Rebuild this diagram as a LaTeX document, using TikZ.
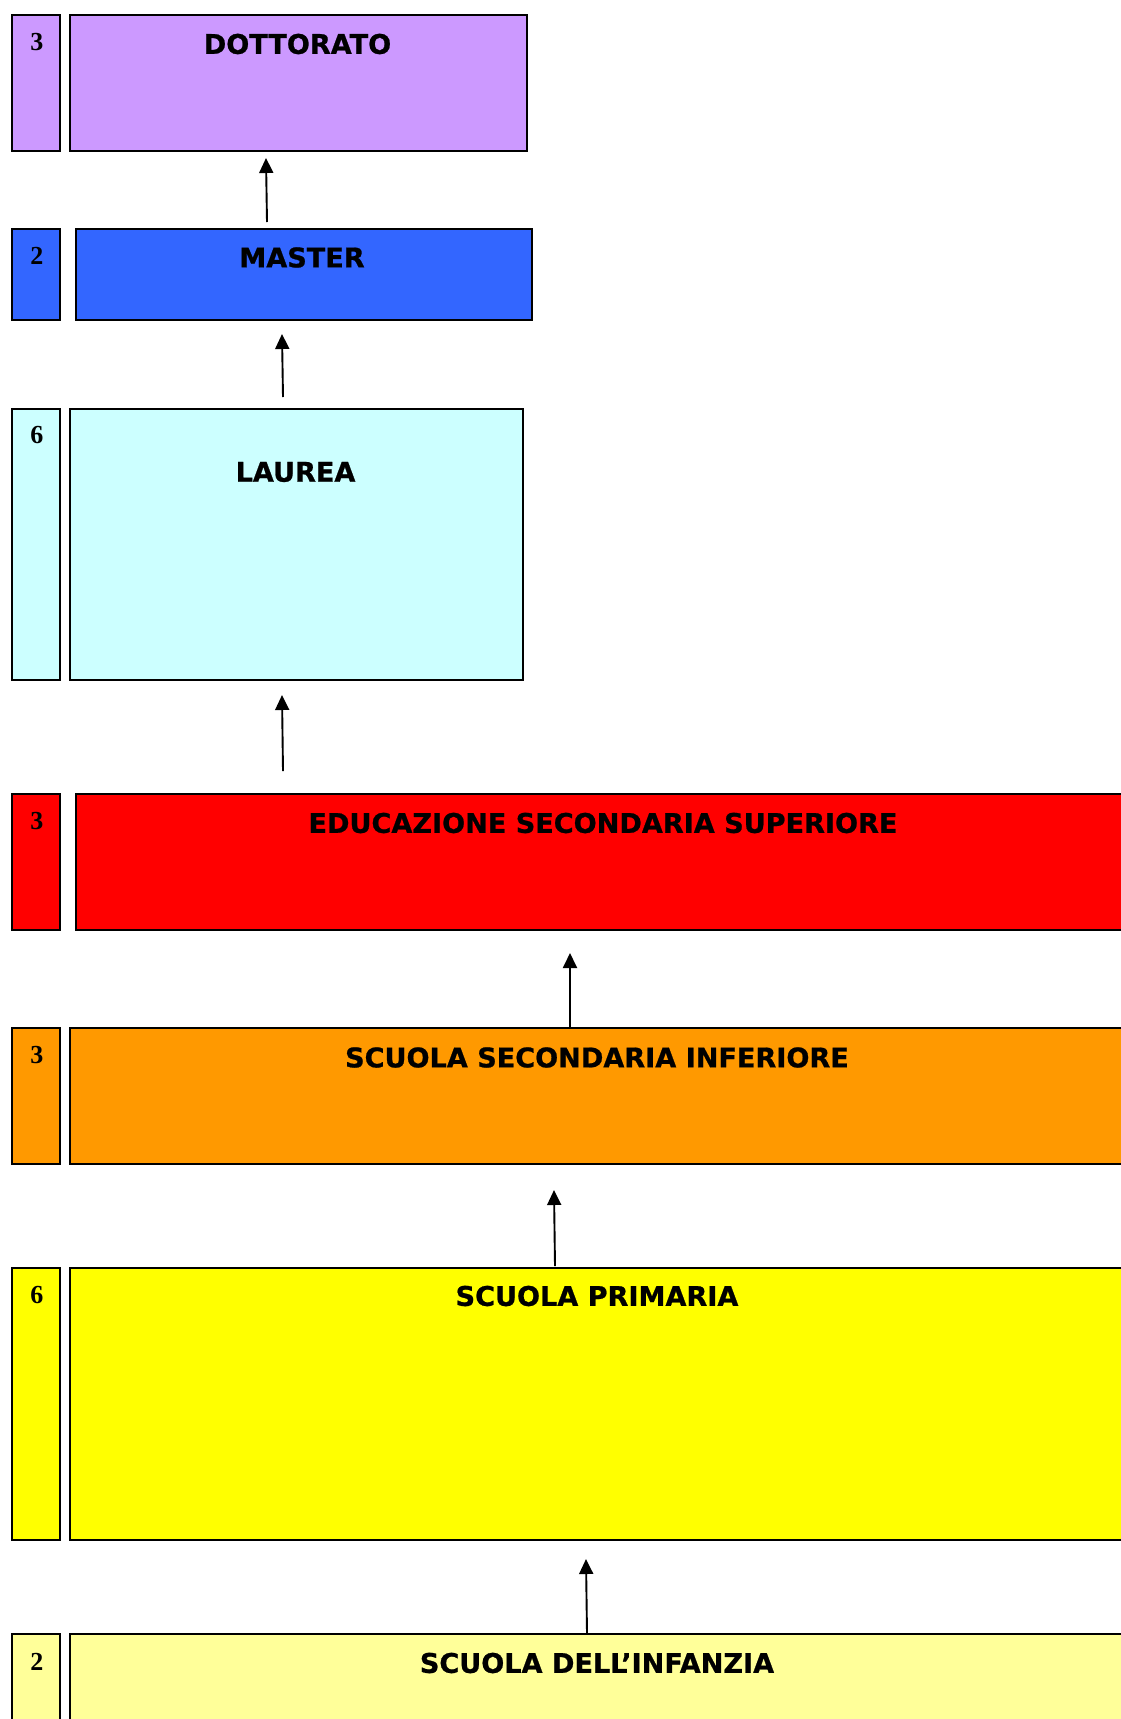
\documentclass[tikz,border=0pt]{standalone}
\usepackage{fontspec}
\setmainfont{Liberation Serif}
\newfontfamily\titlefont[BoldFeatures={FakeBold=0.8}]{DejaVu Sans}
\usetikzlibrary{arrows.meta}
\definecolor{cdott}{HTML}{CC99FF}
\definecolor{cmast}{HTML}{3366FF}
\definecolor{claur}{HTML}{CCFFFF}
\definecolor{cess}{HTML}{FF0000}
\definecolor{cssi}{HTML}{FF9900}
\definecolor{csp}{HTML}{FFFF00}
\definecolor{csdi}{HTML}{FFFF99}
\begin{document}
\begin{tikzpicture}[x=1pt,y=-1pt,
  box/.style={draw=black, line width=2pt, anchor=north west, inner sep=0pt},
  num/.style={font=\fontsize{26}{26}\selectfont\bfseries, inner sep=0pt},
  title/.style={font=\titlefont\fontsize{27.1}{27.1}\selectfont\bfseries, inner sep=0pt},
  up/.style={-{Triangle[length=15pt,width=14pt]}, line width=1.9pt}]
\useasboundingbox (0,0) rectangle (1120,1719);
\fill[white] (0,0) rectangle (1120,1719);
% DOTTORATO
\node[box, fill=cdott, minimum width=48pt, minimum height=136pt] (dS) at (11,14) {};
\node[box, fill=cdott, minimum width=457pt, minimum height=136pt] (dB) at (69,14) {};
\node[num] (dN) at (37,42) {3};
\node[title] (dT) at (297.5,44) {DOTTORATO};
% MASTER
\node[box, fill=cmast, minimum width=48pt, minimum height=91pt] (mS) at (11,228) {};
\node[box, fill=cmast, minimum width=456pt, minimum height=91pt] (mB) at (74.5,228) {};
\node[num] (mN) at (37,256) {2};
\node[title] (mT) at (302,257.5) {MASTER};
% LAUREA
\node[box, fill=claur, minimum width=48pt, minimum height=271pt] (lS) at (11,408) {};
\node[box, fill=claur, minimum width=453pt, minimum height=271pt] (lB) at (69,408) {};
\node[num] (lN) at (37,435) {6};
\node[title] (lT) at (295.5,472) {LAUREA};
% EDUCAZIONE SECONDARIA SUPERIORE
\node[box, fill=cess, minimum width=48pt, minimum height=136pt] (eS) at (11,793) {};
\node[box, fill=cess, minimum width=1057pt, minimum height=136pt] (eB) at (74.5,793) {};
\node[num] (eN) at (37,821) {3};
\node[title] (eT) at (603,823) {EDUCAZIONE SECONDARIA SUPERIORE};
% SCUOLA SECONDARIA INFERIORE
\node[box, fill=cssi, minimum width=48pt, minimum height=136pt] (iS) at (11,1027) {};
\node[box, fill=cssi, minimum width=1057pt, minimum height=136pt] (iB) at (69,1027) {};
\node[num] (iN) at (37,1055) {3};
\node[title] (iT) at (597,1057.5) {SCUOLA SECONDARIA INFERIORE};
% SCUOLA PRIMARIA
\node[box, fill=csp, minimum width=48pt, minimum height=272pt] (pS) at (11,1267) {};
\node[box, fill=csp, minimum width=1057pt, minimum height=272pt] (pB) at (69,1267) {};
\node[num] (pN) at (37,1295) {6};
\node[title] (pT) at (597,1296) {SCUOLA PRIMARIA};
% SCUOLA DELL'INFANZIA
\node[box, fill=csdi, minimum width=48pt, minimum height=200pt] (fS) at (11,1633) {};
\node[box, fill=csdi, minimum width=1057pt, minimum height=200pt] (fB) at (69,1633) {};
\node[num] (fN) at (37,1662) {2};
\node[title] (fT) at (597,1663) {SCUOLA DELL’INFANZIA};
% arrows
\coordinate (a1s) at (267,222); \coordinate (a1e) at (266,158);
\coordinate (a2s) at (283,397); \coordinate (a2e) at (282,334);
\coordinate (a3s) at (283,771); \coordinate (a3e) at (282,695);
\coordinate (a4s) at (570,1027); \coordinate (a4e) at (570,953);
\coordinate (a5s) at (555,1266); \coordinate (a5e) at (554,1190);
\coordinate (a6s) at (587,1633); \coordinate (a6e) at (586,1559);
\draw[up] (a1s) -- (a1e);
\draw[up] (a2s) -- (a2e);
\draw[up] (a3s) -- (a3e);
\draw[up] (a4s) -- (a4e);
\draw[up] (a5s) -- (a5e);
\draw[up] (a6s) -- (a6e);
\end{tikzpicture}
\end{document}
